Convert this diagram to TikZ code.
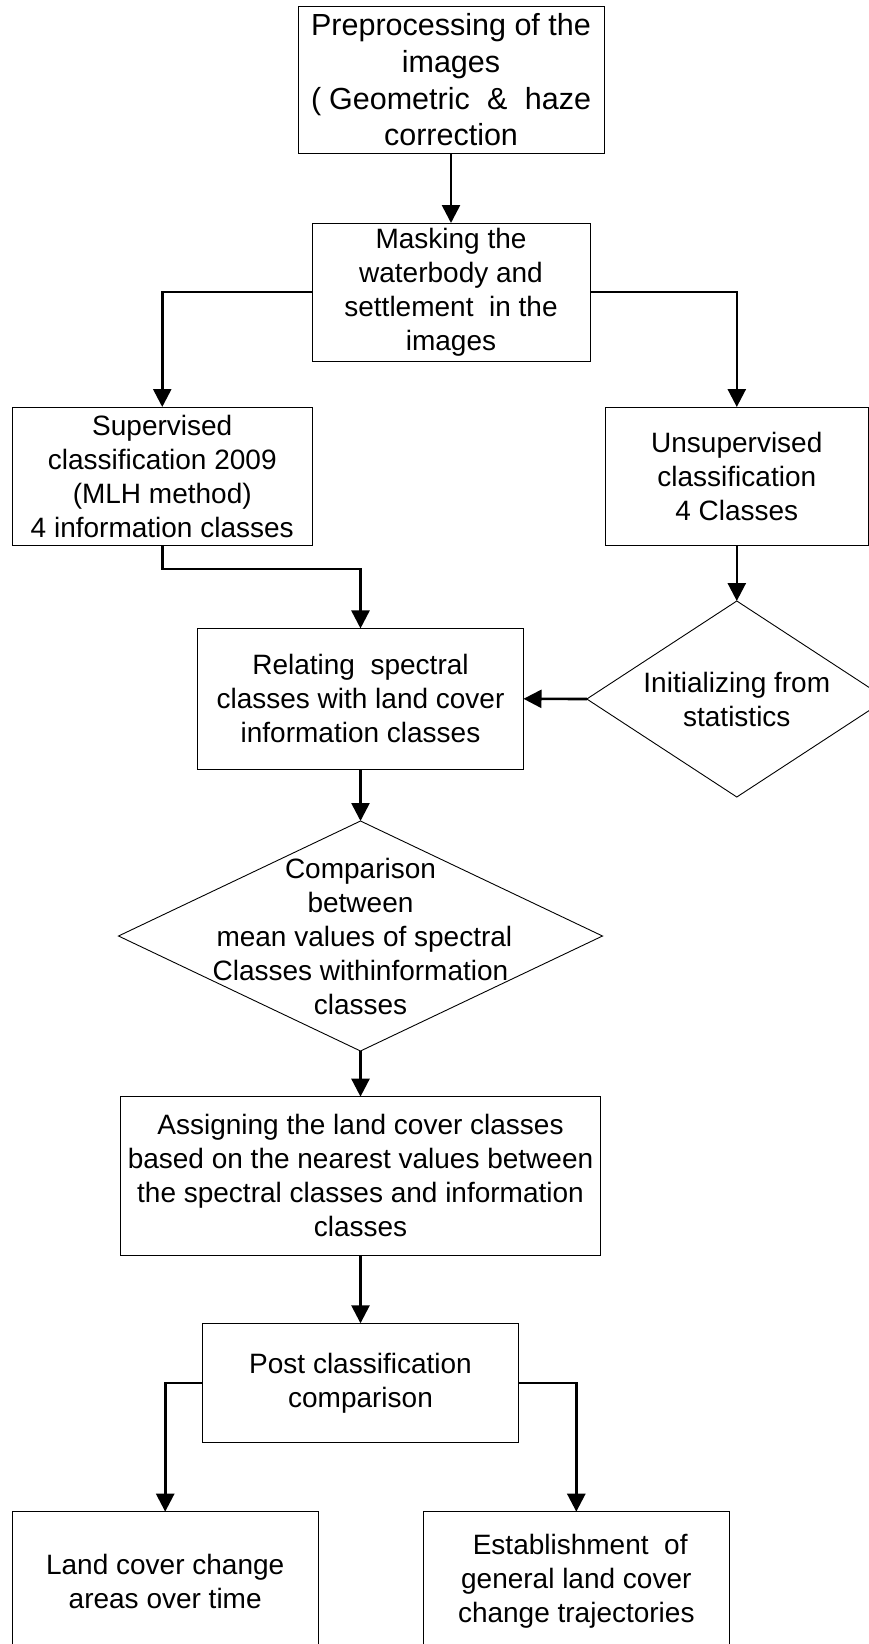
\documentclass[tikz,border=0pt]{standalone}
\usepackage{fontspec}
\setmainfont{Liberation Sans}
\usetikzlibrary{arrows.meta,shapes.geometric}
\begin{document}
\begin{tikzpicture}[x=1pt,y=-1pt,
  every node/.style={inner sep=0pt, outer sep=0pt},
  box/.style={draw, line width=0.9pt, align=center, font=\fontsize{28}{34}\selectfont},
  dia/.style={draw, shape=diamond, line width=0.9pt, inner sep=0pt},
  lbl/.style={align=center, font=\fontsize{28}{34}\selectfont},
  flow/.style={line width=2.6pt, -{Triangle[length=18pt,width=18pt]}},
]
\path[use as bounding box, fill=white] (0,0) rectangle (869,1644);
\clip (0,0) rectangle (869,1644);

% process boxes
\node[box, minimum width=306pt, minimum height=146.5pt, font=\fontsize{30.5}{36.7}\selectfont] (pre) at (451,79.75)
  {Preprocessing of the\\images\\\makebox[280pt][s]{(\kern8pt Geometric \& haze}\\correction};
\node[box, minimum width=278pt, minimum height=138pt] (mask) at (451,292)
  {Masking the\\waterbody and\\settlement\ \ in the\\images};
\node[box, minimum width=300.5pt, minimum height=138pt] (sup) at (162.25,476)
  {Supervised\\classification 2009\\(MLH method)\\4 information classes};
\node[box, minimum width=262.4pt, minimum height=138pt] (unsup) at (736.8,476)
  {Unsupervised\\classification\\4 Classes};

% decision: initializing
\node[dia, minimum width=300pt, minimum height=196pt] (init) at (736.8,699) {};
\node[lbl] (initlbl) at (init) {Initializing from\\statistics};

\node[box, minimum width=326pt, minimum height=140.7pt] (rel) at (360.5,698.8)
  {Relating\ \ spectral\\classes with land cover\\information classes};

% decision: comparison
\node[dia, minimum width=484pt, minimum height=230pt] (cmp) at (360.5,936) {};
\node[lbl] (cmplbl) at (cmp) {Comparison\\between\\\ mean values of spectral\\Classes withinformation\\classes};

\node[box, minimum width=480.7pt, minimum height=158.3pt] (assign) at (360.5,1175.8)
  {Assigning the land cover classes\\based on the nearest values between\\the spectral classes and information\\classes};
\node[box, minimum width=316.4pt, minimum height=119.4pt] (post) at (360.5,1383)
  {Post classification\\comparison};
\node[box, minimum width=305.7pt, minimum height=139.6pt] (area) at (165.2,1581.5)
  {Land cover change\\areas over time};
\node[box, minimum width=305.8pt, minimum height=139.6pt] (traj) at (576.3,1581.5)
  {\ Establishment\ \ of\\general land cover\\change trajectories};

% connectors
\draw[flow] (pre.south) -- (mask.north);
\draw[flow] (mask.west) -| (sup.north);
\draw[flow] (mask.east) -| (unsup.north);
\draw[flow] (unsup.south) -- (init.north);
\draw[flow] (sup.south) -- ++(0,24) -| (rel.north);
\draw[flow] (init.west) -- (rel.east);
\draw[flow] (rel.south) -- (cmp.north);
\draw[flow] (cmp.south) -- (assign.north);
\draw[flow] (assign.south) -- (post.north);
\draw[flow] (post.west) -| (area.north);
\draw[flow] (post.east) -| (traj.north);
\end{tikzpicture}
\end{document}
